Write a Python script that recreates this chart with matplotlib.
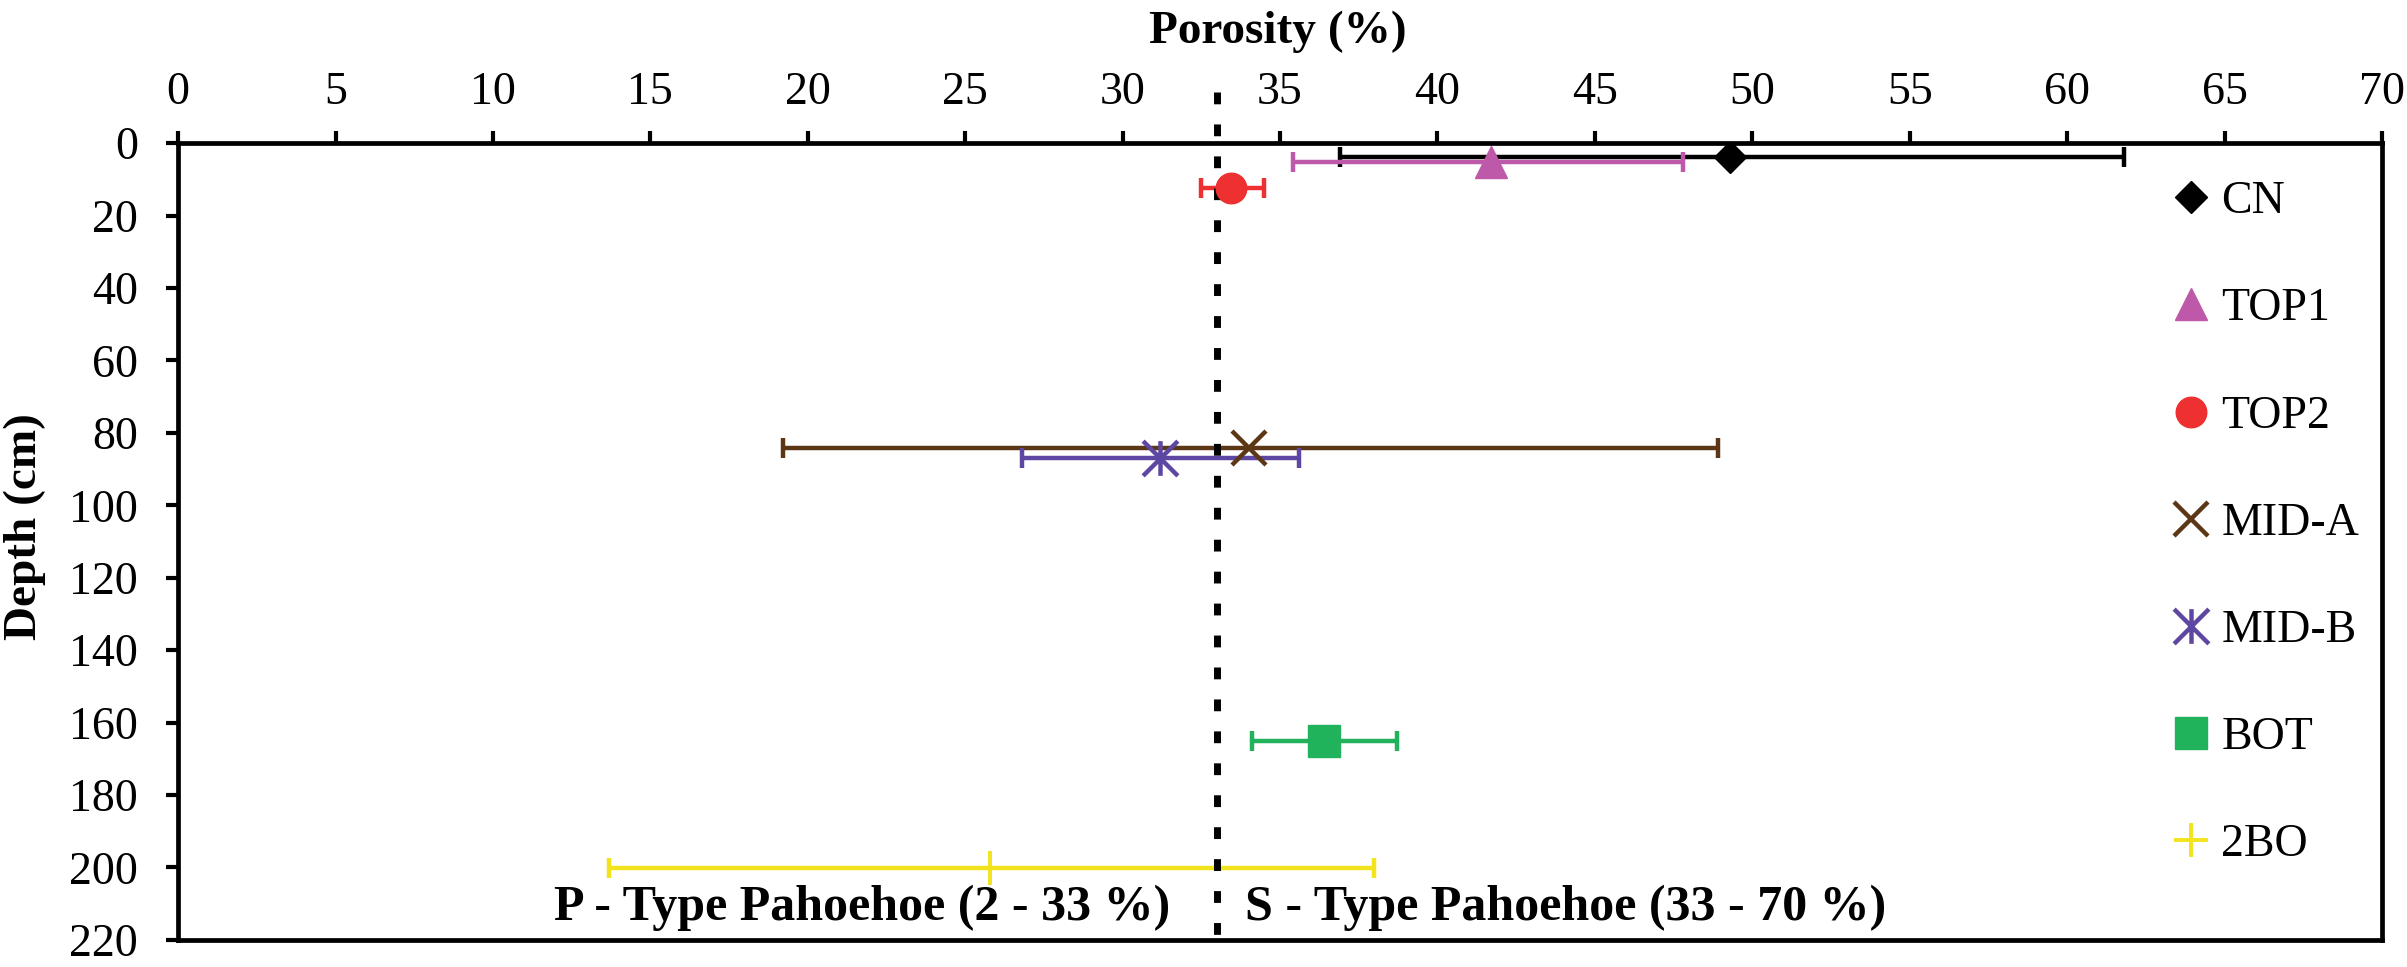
import matplotlib
matplotlib.use("Agg")
import matplotlib.pyplot as plt
from matplotlib.path import Path

plt.rcParams['font.family'] = ['Liberation Serif', 'DejaVu Serif']

# sample data
names = ["CN", "TOP1", "TOP2", "MID-A", "MID-B", "BOT", "2BO"]
porosity = [49.3, 41.7, 33.45, 34.0, 31.2, 36.4, 25.8]
depth = [3.9, 5.3, 12.3, 84.3, 87.0, 165.0, 200.2]
por_low = [36.9, 35.4, 32.5, 19.2, 26.8, 34.1, 13.7]
por_high = [61.8, 47.8, 34.5, 48.9, 35.6, 38.7, 38.0]

colors = ["#000000", "#BE58A8", "#EE3030", "#5B3716", "#5E47A3", "#21B25C", "#F2E41C"]

asterisk = Path([(0, -1), (0, 1), (-1, -1), (1, 1), (-1, 1), (1, -1)],
                [Path.MOVETO, Path.LINETO, Path.MOVETO, Path.LINETO,
                 Path.MOVETO, Path.LINETO])
markers = ["D", "^", "o", "x", asterisk, "s", "+"]
msizes = [16, 23, 22, 25, 25, 23, 24]
mwidth = [1, 1, 1, 3.2, 3.2, 1, 2.8]

p_boundary = 33

fig = plt.figure(figsize=(24.07, 9.67), dpi=100)
ax = fig.add_axes([0.074, 0.028, 0.9156, 0.824])

for i, n in enumerate(names):
    x = porosity[i]
    ax.errorbar([x], [depth[i]], xerr=[[x - por_low[i]], [por_high[i] - x]],
                fmt="none", ecolor=colors[i], elinewidth=3.2, capsize=7,
                capthick=3.2, zorder=2)

ax.plot([p_boundary, p_boundary], [-14, 220], color="black", lw=5,
        linestyle=(0, (1.7, 2.9)), clip_on=False, zorder=3)

for i, n in enumerate(names):
    ax.plot([porosity[i]], [depth[i]], linestyle="none", marker=markers[i],
            markersize=msizes[i], color=colors[i], markeredgewidth=mwidth[i],
            label=n, zorder=4)

ax.set_xlim(0, 70)
ax.set_ylim(220, 0)
ax.set_xticks(range(0, 71, 5))
ax.set_yticks(range(0, 221, 20))
ax.xaxis.tick_top()
ax.tick_params(axis="x", which="major", direction="out", length=9, width=3,
               labelsize=33, pad=12)
ax.tick_params(axis="y", which="major", direction="out", length=9, width=3,
               labelsize=33, pad=20)
for s in ax.spines.values():
    s.set_linewidth(3.4)

fig.text(0.531, 0.967, "Porosity (%)", ha="center", va="center",
         fontsize=34, fontweight="bold")
fig.text(0.0105, 0.455, "Depth (cm)", ha="center", va="center", rotation=90,
         fontsize=34, fontweight="bold")

ax.text(31.5, 214.6, "P - Type Pahoehoe (2 - 33 %)", ha="right", va="baseline",
        fontsize=36, fontweight="bold")
ax.text(33.9, 214.6, "S - Type Pahoehoe (33 - 70 %)", ha="left", va="baseline",
        fontsize=36, fontweight="bold")

ax.legend(loc="upper left", bbox_to_anchor=(0.9028, 0.813),
          bbox_transform=fig.transFigure, frameon=False, fontsize=33,
          handlelength=0.8, handletextpad=0.25, labelspacing=1.41,
          borderpad=0, borderaxespad=0, numpoints=1)

fig.savefig("out.png", dpi=100)
